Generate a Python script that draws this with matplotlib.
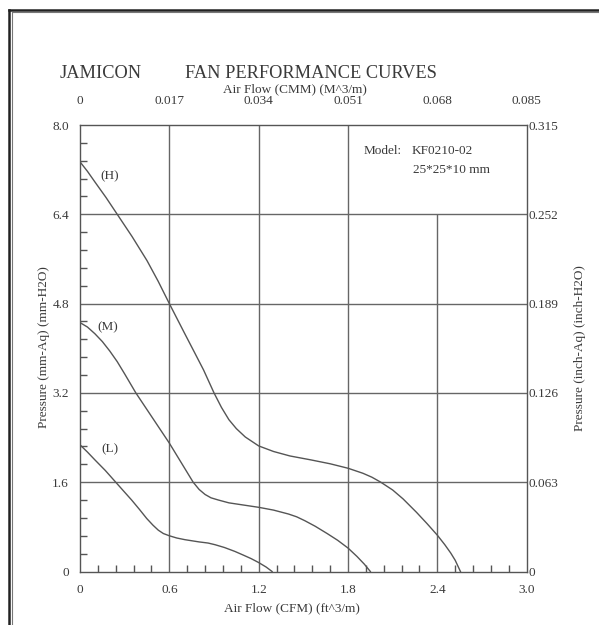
import matplotlib
matplotlib.use("Agg")
import matplotlib.pyplot as plt
import matplotlib.ticker as ticker
from matplotlib.lines import Line2D

# --- data ---
# airflow in CFM, pressure in mm-H2O
h_flow = [0.00, 0.05, 0.10, 0.175, 0.25, 0.35, 0.45, 0.525, 0.60, 0.70, 0.77, 0.83, 0.90,
          0.95, 1.00, 1.05, 1.11, 1.20, 1.30, 1.41, 1.55, 1.68, 1.80, 1.90, 1.96, 2.02,
          2.10, 2.17, 2.26, 2.33, 2.40, 2.45, 2.49, 2.52, 2.555]
h_press = [7.34, 7.17, 6.98, 6.70, 6.40, 6.00, 5.57, 5.20, 4.80, 4.28, 3.92, 3.61, 3.20,
           2.94, 2.72, 2.56, 2.41, 2.25, 2.15, 2.07, 2.00, 1.93, 1.85, 1.76, 1.69, 1.60,
           1.46, 1.30, 1.06, 0.86, 0.65, 0.48, 0.33, 0.20, 0.00]

m_flow = [0.00, 0.05, 0.10, 0.15, 0.20, 0.25, 0.30, 0.375, 0.45, 0.525, 0.60, 0.68, 0.76,
          0.80, 0.84, 0.88, 0.93, 1.00, 1.10, 1.20, 1.30, 1.40, 1.455, 1.51, 1.58, 1.66,
          1.73, 1.80, 1.86, 1.91, 1.95]
m_press = [4.46, 4.38, 4.26, 4.12, 3.95, 3.76, 3.54, 3.20, 2.90, 2.60, 2.30, 1.95, 1.60,
           1.47, 1.38, 1.32, 1.28, 1.23, 1.19, 1.15, 1.10, 1.03, 0.98, 0.91, 0.81, 0.68,
           0.56, 0.42, 0.27, 0.13, 0.00]

l_flow = [0.00, 0.05, 0.10, 0.17, 0.24, 0.30, 0.347, 0.40, 0.448, 0.49, 0.526, 0.56, 0.60,
          0.65, 0.705, 0.80, 0.86, 0.907, 0.97, 1.04, 1.10, 1.15, 1.20, 1.25, 1.29]
l_press = [2.27, 2.14, 2.00, 1.81, 1.60, 1.42, 1.28, 1.11, 0.95, 0.83, 0.74, 0.68, 0.64,
           0.60, 0.57, 0.53, 0.51, 0.48, 0.43, 0.36, 0.29, 0.23, 0.16, 0.08, 0.00]

cfm_ticks = [0, 0.6, 1.2, 1.8, 2.4, 3.0]
cfm_labels = ["0", "0.6", "1.2", "1.8", "2.4", "3.0"]
cmm_ticks = [0, 0.017, 0.034, 0.051, 0.068, 0.085]
cmm_labels = ["0", "0.017", "0.034", "0.051", "0.068", "0.085"]
mm_ticks = [0, 1.6, 3.2, 4.8, 6.4, 8.0]
mm_labels = ["0", "1.6", "3.2", "4.8", "6.4", "8.0"]
inch_ticks = [0, 0.063, 0.126, 0.189, 0.252, 0.315]
inch_labels = ["0", "0.063", "0.126", "0.189", "0.252", "0.315"]

grid_x = [0.6, 1.2, 1.8, 2.4]
grid_x_top = [8.0, 8.0, 8.0, 6.4]   # the 2.4 line stops under the model box
grid_y = [1.6, 3.2, 4.8, 6.4]

plt.rcParams['font.family'] = ['Liberation Serif', 'DejaVu Serif']
TXT = '#3a3a3a'
LN = '#555555'
FS = 9.5

W, H = 599, 625
fig = plt.figure(figsize=(W / 100, H / 100), dpi=100)
fig.patch.set_facecolor('white')


def fx(px):
    return px / W


def fy(py):
    return 1 - py / H


ax = fig.add_axes([fx(80), fy(571.5), fx(526.7) - fx(80), fy(125) - fy(571.5)])

# grid
ax.vlines(grid_x, 0, grid_x_top, colors='#666666', linewidth=1.0, zorder=1)
ax.hlines(grid_y, 0, 3.0, colors='#666666', linewidth=1.0, zorder=1)

# curves
for fl, pr in [(h_flow, h_press), (m_flow, m_press), (l_flow, l_press)]:
    ax.plot(fl, pr, color=LN, linewidth=1.0, zorder=3, solid_joinstyle='round')

ax.text(0.134, 7.08, "(H)", fontsize=FS, color=TXT, va='center', ha='left')
ax.text(0.114, 4.38, "(M)", fontsize=FS, color=TXT, va='center', ha='left')
ax.text(0.141, 2.19, "(L)", fontsize=FS, color=TXT, va='center', ha='left')

ax.text(1.907, 7.54, "Model:", fontsize=FS, color=TXT, va='center', ha='left')
ax.text(2.228, 7.54, "KF0210-02", fontsize=FS, color=TXT, va='center', ha='left')
ax.text(2.234, 7.20, "25*25*10 mm", fontsize=FS, color=TXT, va='center', ha='left')

ax.set_xlim(0, 3.0)
ax.set_ylim(0, 8.0)
ax.set_xticks(cfm_ticks)
ax.set_xticklabels(cfm_labels)
ax.set_yticks(mm_ticks)
ax.set_yticklabels(mm_labels)
ax.xaxis.set_minor_locator(ticker.MultipleLocator(0.12))
ax.yaxis.set_minor_locator(ticker.MultipleLocator(0.32))
ax.tick_params(which='both', direction='in', top=True, right=True, color=LN,
               width=1.0, labelsize=FS, labelcolor=TXT)
ax.tick_params(which='major', length=0)
ax.tick_params(which='minor', length=5)
ax.tick_params(axis='x', which='major', pad=9)
ax.tick_params(axis='y', which='major', pad=8)
for s in ax.spines.values():
    s.set_color(LN)
    s.set_linewidth(1.0)

# top axis in CMM
axt = ax.twiny()
axt.set_xlim(0, 0.085)
axt.set_xticks(cmm_ticks)
axt.set_xticklabels(cmm_labels)
axt.tick_params(length=0, labelsize=FS, labelcolor=TXT, pad=13)
axt.xaxis.set_minor_locator(ticker.NullLocator())

# right axis in inch-H2O
axr = ax.twinx()
axr.set_ylim(0, 0.315)
axr.set_yticks(inch_ticks)
axr.set_yticklabels(inch_labels)
axr.tick_params(length=0, labelsize=FS, labelcolor=TXT, pad=1)
axr.yaxis.set_minor_locator(ticker.NullLocator())
for a in (axt, axr):
    for s in a.spines.values():
        s.set_visible(False)

# titles and axis labels
fig.text(fx(60), fy(78), "JAMICON", fontsize=13.2, color=TXT, va='baseline', ha='left')
fig.text(fx(185), fy(78), "FAN PERFORMANCE CURVES", fontsize=13.2, color=TXT,
         va='baseline', ha='left')
fig.text(fx(294.5), fy(89), "Air Flow (CMM) (M^3/m)", fontsize=FS, color=TXT,
         va='center', ha='center')
fig.text(fx(292), fy(608), "Air Flow (CFM) (ft^3/m)", fontsize=FS, color=TXT,
         va='center', ha='center')
fig.text(fx(44), fy(347), "Pressure (mm-Aq) (mm-H2O)", fontsize=FS, color=TXT,
         va='center', ha='center', rotation=90)
fig.text(fx(580), fy(348), "Pressure (inch-Aq) (inch-H2O)", fontsize=FS, color=TXT,
         va='center', ha='center', rotation=90)

# page frame (double line, cut off at right and bottom)
fig.add_artist(Line2D([fx(9), fx(9)], [0, fy(9.5)], color='#222222', linewidth=1.8))
fig.add_artist(Line2D([fx(9), 1], [fy(9.5), fy(9.5)], color='#222222', linewidth=1.8))
fig.add_artist(Line2D([fx(11.5), fx(11.5)], [0, fy(12)], color='#777777', linewidth=0.8))
fig.add_artist(Line2D([fx(11.5), 1], [fy(12), fy(12)], color='#777777', linewidth=0.8))

fig.savefig("out.png", dpi=100, facecolor='white')
